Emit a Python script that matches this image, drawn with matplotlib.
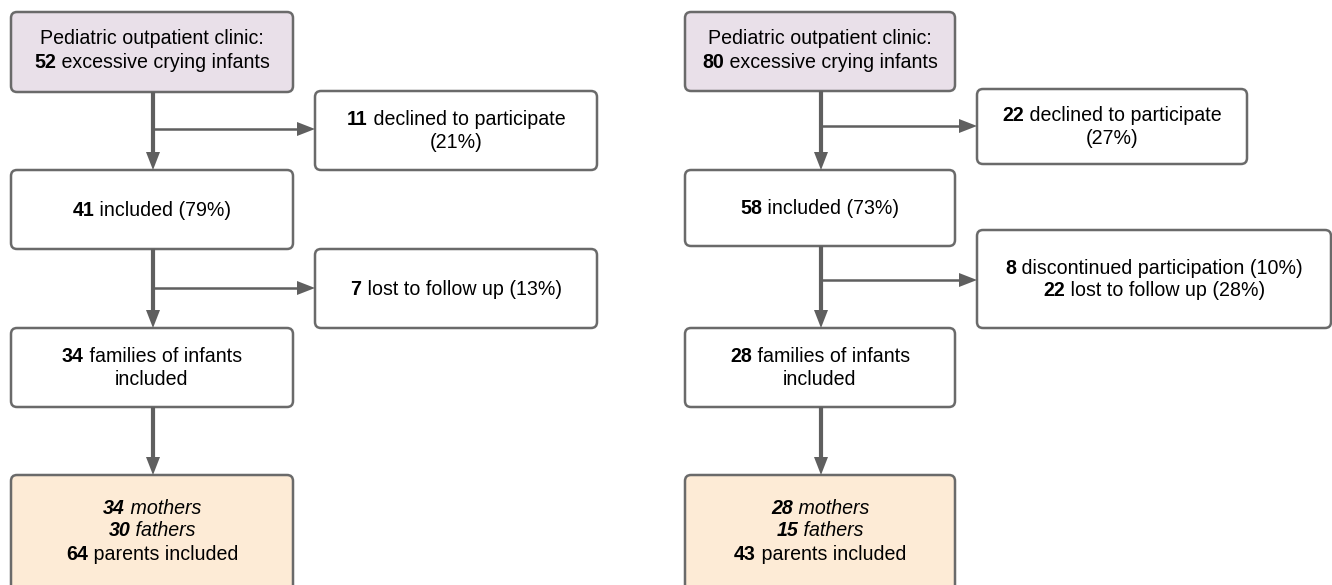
import matplotlib
matplotlib.use("Agg")
import matplotlib.pyplot as plt
from matplotlib.patches import FancyBboxPatch, Polygon

plt.rcParams['font.family'] = ['Liberation Sans', 'DejaVu Sans']

# ---- data ----
clinic_n = [52, 80]
declined_n = [11, 22]
declined_pct = [21, 27]
included_n = [41, 58]
included_pct = [79, 73]
discontinued_n = [None, 8]
discontinued_pct = [None, 10]
lost_n = [7, 22]
lost_pct = [13, 28]
families_n = [34, 28]
mothers_n = [34, 28]
fathers_n = [30, 15]
parents_n = [64, 43]

W, H = 1332, 585
fig = plt.figure(figsize=(W / 100, H / 100), dpi=100)
ax = fig.add_axes([0, 0, 1, 1])
ax.set_xlim(0, W)
ax.set_ylim(H, 0)
ax.axis('off')

EDGE = '#6a6a6a'
ARROW = '#5f5f5f'
PURPLE = '#e9e0e9'
PEACH = '#fdebd6'
FS = 14.1
BASE = 6.5  # baseline offset below visual centre (px)
renderer = fig.canvas.get_renderer()


def box(x0, y0, x1, y1, fc='white'):
    p = FancyBboxPatch((x0, y0), x1 - x0, y1 - y0,
                       boxstyle='round,pad=0,rounding_size=6',
                       fc=fc, ec=EDGE, lw=1.8, zorder=2)
    ax.add_patch(p)


def rich_line(cx, y, parts):
    """parts: list of (text, weight, style). Centered at cx."""
    objs = []
    widths = []
    for txt, wt, st in parts:
        t = ax.text(0, y + BASE, txt, fontsize=FS, fontweight=wt, fontstyle=st,
                    va='baseline', ha='left', color='#000000', zorder=5)
        bb = t.get_window_extent(renderer=renderer)
        objs.append(t)
        widths.append(bb.width)
    total = sum(widths)
    x = cx - total / 2
    for t, w in zip(objs, widths):
        t.set_x(x)
        x += w


def lines(cx, ys, rows):
    for y, parts in zip(ys, rows):
        rich_line(cx, y, parts)


def varrow(x, y0, y1):
    ax.plot([x, x], [y0, y1 - 17], color=ARROW, lw=3, solid_capstyle='butt', zorder=3)
    ax.add_patch(Polygon([[x - 7, y1 - 18], [x + 7, y1 - 18], [x, y1]],
                         closed=True, fc=ARROW, ec='none', zorder=3))


def harrow(x0, y, x1):
    ax.plot([x0, x1 - 17], [y, y], color=ARROW, lw=1.8, solid_capstyle='butt', zorder=3)
    ax.add_patch(Polygon([[x1 - 18, y - 7], [x1 - 18, y + 7], [x1, y]],
                         closed=True, fc=ARROW, ec='none', zorder=3))


B, N, I = 'bold', 'normal', 'italic'

cols = [
    dict(l=11, r=293, sl=315, sr=597, ax_=153,
         top=(12, 92), dec=(91, 170), inc=(170, 249), lost=(249, 328),
         fam=(328, 407), par=(475, 600), br1=129, br2=288),
    dict(l=685, r=955, sl=977, sr=1247, sr2=1331, ax_=821,
         top=(12, 91), dec=(89, 164), inc=(170, 246), lost=(230, 328),
         fam=(328, 407), par=(475, 600), br1=126, br2=280),
]

for i, c in enumerate(cols):
    cx = (c['l'] + c['r']) / 2
    # top box
    box(c['l'], c['top'][0], c['r'], c['top'][1], PURPLE)
    lines(cx, [38, 61], [[('Pediatric outpatient clinic:', N, 'normal')],
                         [(f'{clinic_n[i]}', B, 'normal'), (' excessive crying infants', N, 'normal')]])
    # declined box
    box(c['sl'], c['dec'][0], c['sr'], c['dec'][1])
    scx = (c['sl'] + c['sr']) / 2
    dy = (c['dec'][0] + c['dec'][1]) / 2
    lines(scx, [dy - 12, dy + 11], [[(f'{declined_n[i]}', B, 'normal'), (' declined to participate', N, 'normal')],
                                   [(f'({declined_pct[i]}%)', N, 'normal')]])
    # included
    box(c['l'], c['inc'][0], c['r'], c['inc'][1])
    iy = (c['inc'][0] + c['inc'][1]) / 2
    rich_line(cx, iy, [(f'{included_n[i]}', B, 'normal'), (f' included ({included_pct[i]}%)', N, 'normal')])
    # lost box
    sr = c.get('sr2', c['sr'])
    box(c['sl'], c['lost'][0], sr, c['lost'][1])
    lcx = (c['sl'] + sr) / 2
    ly = (c['lost'][0] + c['lost'][1]) / 2
    if discontinued_n[i] is None:
        rich_line(lcx, ly, [(f'{lost_n[i]}', B, 'normal'), (f' lost to follow up ({lost_pct[i]}%)', N, 'normal')])
    else:
        lines(lcx, [ly - 12, ly + 11],
              [[(f'{discontinued_n[i]}', B, 'normal'), (f' discontinued participation ({discontinued_pct[i]}%)', N, 'normal')],
               [(f'{lost_n[i]}', B, 'normal'), (f' lost to follow up ({lost_pct[i]}%)', N, 'normal')]])
    # families
    box(c['l'], c['fam'][0], c['r'], c['fam'][1])
    fy = (c['fam'][0] + c['fam'][1]) / 2
    lines(cx, [fy - 12, fy + 11], [[(f'{families_n[i]}', B, 'normal'), (' families of infants', N, 'normal')],
                                  [('included', N, 'normal')]])
    # parents
    box(c['l'], c['par'][0], c['r'], c['par'][1], PEACH)
    lines(cx, [507, 530, 553],
          [[(f'{mothers_n[i]}', B, I), (' mothers', N, I)],
           [(f'{fathers_n[i]}', B, I), (' fathers', N, I)],
           [(f'{parents_n[i]}', B, 'normal'), (' parents included', N, 'normal')]])
    # arrows
    x = c['ax_']
    varrow(x, c['top'][1], c['inc'][0])
    harrow(x, c['br1'], c['sl'])
    varrow(x, c['inc'][1], c['fam'][0])
    harrow(x, c['br2'], c['sl'])
    varrow(x, c['fam'][1], c['par'][0])

fig.savefig('out.png', dpi=100)
